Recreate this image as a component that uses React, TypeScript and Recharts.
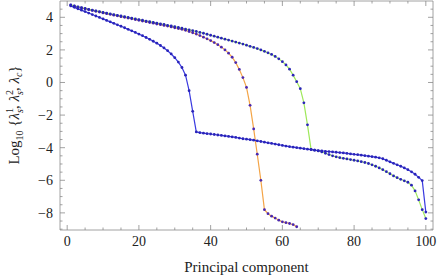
import React from "react";
import { LineChart, Line, XAxis, YAxis } from "recharts";

// log10 of the eigenvalues, one per principal component (1, 2, 3, ...)
const lambdaS1 = [
  4.75, 4.68, 4.62, 4.57, 4.52, 4.47, 4.42, 4.37, 4.32, 4.27, 4.22, 4.18, 4.13, 4.09, 4.04, 4.0,
  3.95, 3.91, 3.86, 3.82, 3.77, 3.73, 3.68, 3.64, 3.59, 3.55, 3.5, 3.46, 3.41, 3.36, 3.31, 3.26,
  3.2, 3.13, 3.05, 2.97, 2.88, 2.78, 2.68, 2.57, 2.45, 2.32, 2.17, 2.0, 1.8, 1.55, 1.22, 0.8,
  0.3, -0.3, -1.4, -2.85, -4.4, -6.0, -7.8, -8.05, -8.2, -8.32, -8.45, -8.55, -8.6, -8.65,
  -8.72, -8.85,
];

const lambdaS2 = [
  4.76, 4.7, 4.64, 4.59, 4.54, 4.49, 4.44, 4.39, 4.35, 4.3, 4.26, 4.21, 4.17, 4.12, 4.08, 4.04,
  3.99, 3.95, 3.9, 3.86, 3.82, 3.77, 3.73, 3.69, 3.64, 3.6, 3.56, 3.51, 3.47, 3.42, 3.38, 3.33,
  3.28, 3.23, 3.18, 3.13, 3.07, 3.02, 2.96, 2.9, 2.84, 2.78, 2.72, 2.66, 2.6, 2.54, 2.48, 2.42,
  2.36, 2.29, 2.22, 2.15, 2.08, 2.0, 1.91, 1.82, 1.72, 1.6, 1.45, 1.28, 1.08, 0.82, 0.45, 0.05,
  -0.38, -1.25, -2.6, -4.1, -4.15, -4.2, -4.26, -4.34, -4.42, -4.5, -4.56, -4.61, -4.65, -4.69,
  -4.73, -4.77, -4.81, -4.86, -4.91, -4.97, -5.05, -5.14, -5.24, -5.35, -5.47, -5.6, -5.73,
  -5.84, -5.94, -6.03, -6.12, -6.3, -6.65, -7.2, -7.8, -8.35,
];

const lambdaC = [
  4.7, 4.61, 4.52, 4.44, 4.35, 4.26, 4.17, 4.08, 3.99, 3.9, 3.81, 3.72, 3.63, 3.54, 3.45, 3.36,
  3.26, 3.17, 3.07, 2.97, 2.87, 2.76, 2.65, 2.53, 2.41, 2.27, 2.12, 1.95, 1.75, 1.52, 1.25, 0.92,
  0.45, -0.5, -1.77, -3.03, -3.08, -3.11, -3.14, -3.16, -3.19, -3.22, -3.25, -3.28, -3.31,
  -3.34, -3.37, -3.41, -3.45, -3.48, -3.51, -3.54, -3.58, -3.62, -3.66, -3.7, -3.74, -3.78,
  -3.82, -3.86, -3.9, -3.94, -3.97, -4.0, -4.03, -4.06, -4.09, -4.12, -4.15, -4.18, -4.2, -4.22,
  -4.24, -4.26, -4.28, -4.3, -4.32, -4.35, -4.38, -4.41, -4.43, -4.46, -4.49, -4.52, -4.55,
  -4.58, -4.62, -4.68, -4.77, -4.87, -4.96, -5.05, -5.14, -5.24, -5.35, -5.48, -5.63, -5.82,
  -6.02, -7.95,
];

const xTicks = [0, 5, 10, 15, 20, 25, 30, 35, 40, 45, 50, 55, 60, 65, 70, 75, 80, 85, 90, 95, 100];
const xLabels = [0, 20, 40, 60, 80, 100];
const yTicks = [
  -9, -8.5, -8, -7.5, -7, -6.5, -6, -5.5, -5, -4.5, -4, -3.5, -3, -2.5, -2, -1.5, -1, -0.5, 0,
  0.5, 1, 1.5, 2, 2.5, 3, 3.5, 4, 4.5,
];
const yLabels = [-8, -6, -4, -2, 0, 2, 4];

const toPoints = (vals: number[]) => vals.map((y, i) => ({ x: i + 1, y }));

const FONT = "'Liberation Serif', 'DejaVu Serif', serif";
const FRAME = "#8a8a8a";
const DOT = "#2a24b8";

const fmt = (v: number) => (v < 0 ? "\u2212" + Math.abs(v) : String(v));

const BottomTick = (props: any) => {
  const { x, y, payload } = props;
  const major = xLabels.includes(payload.value);
  return (
    <g>
      <line x1={x} x2={x} y1={y} y2={y - (major ? 5 : 2.5)} stroke={FRAME} strokeWidth={0.8} />
      {major && (
        <text x={x} y={y + 16} textAnchor="middle" fontSize={14} fontFamily={FONT} fill="#222">
          {payload.value}
        </text>
      )}
    </g>
  );
};

const TopTick = (props: any) => {
  const { x, y, payload } = props;
  const major = xLabels.includes(payload.value);
  return <line x1={x} x2={x} y1={y} y2={y + (major ? 5 : 2.5)} stroke={FRAME} strokeWidth={0.8} />;
};

const LeftTick = (props: any) => {
  const { x, y, payload } = props;
  const major = yLabels.includes(payload.value);
  return (
    <g>
      <line x1={x} x2={x + (major ? 5 : 2.5)} y1={y} y2={y} stroke={FRAME} strokeWidth={0.8} />
      {major && (
        <text x={x - 7} y={y + 5} textAnchor="end" fontSize={14} fontFamily={FONT} fill="#222">
          {fmt(payload.value)}
        </text>
      )}
    </g>
  );
};

const RightTick = (props: any) => {
  const { x, y, payload } = props;
  const major = yLabels.includes(payload.value);
  return <line x1={x} x2={x - (major ? 5 : 2.5)} y1={y} y2={y} stroke={FRAME} strokeWidth={0.8} />;
};

const XTitle = (props: any) => {
  const vb = props.viewBox || { x: 60, y: 230, width: 373 };
  return (
    <text x={vb.x + vb.width / 2} y={vb.y + 42} textAnchor="middle" fontSize={15} fontFamily={FONT} fill="#222">
      Principal component
    </text>
  );
};

const YTitle = () => (
  <text transform="rotate(-90)" x={-115} y={19} textAnchor="middle" fontSize={15} fontFamily={FONT} fill="#222">
    <tspan>Log</tspan>
    <tspan dy={4} fontSize={10}>10</tspan>
    <tspan dy={-4}> {"{"}</tspan>
    <tspan fontStyle="italic">λ</tspan>
    <tspan dy={-6} fontSize={10}>1</tspan>
    <tspan dx={-5} dy={10} fontSize={10} fontStyle="italic">s</tspan>
    <tspan dy={-4}>, </tspan>
    <tspan fontStyle="italic">λ</tspan>
    <tspan dy={-6} fontSize={10}>2</tspan>
    <tspan dx={-5} dy={10} fontSize={10} fontStyle="italic">s</tspan>
    <tspan dy={-4}>, </tspan>
    <tspan fontStyle="italic">λ</tspan>
    <tspan dy={3} fontSize={10} fontStyle="italic">c</tspan>
    <tspan dy={-3}>{"}"}</tspan>
  </text>
);

const makeDot = (name: string, color: string) => (p: any) => {
  if (p.cx == null || p.cy == null) return <g key={`${name}-${p.index}`} />;
  return <circle key={`${name}-${p.index}`} cx={p.cx} cy={p.cy} r={1.4} fill={color} />;
};

export default function App() {
  return (
    <div style={{ position: "absolute", left: 0, top: 0, background: "#fff" }}>
      <LineChart width={437} height={277} margin={{ top: 0, right: 0, bottom: 0, left: 0 }}>
        <XAxis
          dataKey="x"
          type="number"
          domain={[-2, 102]}
          ticks={xTicks}
          interval={0}
          allowDataOverflow
          height={47}
          tickSize={0}
          tickMargin={0}
          tick={<BottomTick />}
          axisLine={{ stroke: FRAME, strokeWidth: 0.8 }}
          label={<XTitle />}
        />
        <XAxis
          xAxisId="top"
          orientation="top"
          dataKey="x"
          type="number"
          domain={[-2, 102]}
          ticks={xTicks}
          interval={0}
          allowDataOverflow
          height={1}
          tickSize={0}
          tickMargin={0}
          tick={<TopTick />}
          axisLine={{ stroke: FRAME, strokeWidth: 0.8 }}
        />
        <YAxis
          type="number"
          domain={[-9.05, 5]}
          ticks={yTicks}
          interval={0}
          allowDataOverflow
          width={60}
          tickSize={0}
          tickMargin={0}
          tick={<LeftTick />}
          axisLine={{ stroke: FRAME, strokeWidth: 0.8 }}
          label={<YTitle />}
        />
        <YAxis
          yAxisId="right"
          orientation="right"
          type="number"
          domain={[-9.05, 5]}
          ticks={yTicks}
          interval={0}
          allowDataOverflow
          width={4}
          tickSize={0}
          tickMargin={0}
          tick={<RightTick />}
          axisLine={{ stroke: FRAME, strokeWidth: 0.8 }}
        />
        <Line
          data={toPoints(lambdaS1)}
          dataKey="y"
          type="linear"
          stroke="#f4a446"
          strokeWidth={1.2}
          dot={makeDot("s1", "#4a28b0")}
          activeDot={false}
          isAnimationActive={false}
        />
        <Line
          data={toPoints(lambdaS2)}
          dataKey="y"
          type="linear"
          stroke="#9ee85a"
          strokeWidth={1.2}
          dot={makeDot("s2", DOT)}
          activeDot={false}
          isAnimationActive={false}
        />
        <Line
          data={toPoints(lambdaC)}
          dataKey="y"
          type="linear"
          stroke="#3a3ae0"
          strokeWidth={1.2}
          dot={makeDot("c", DOT)}
          activeDot={false}
          isAnimationActive={false}
        />
      </LineChart>
    </div>
  );
}
